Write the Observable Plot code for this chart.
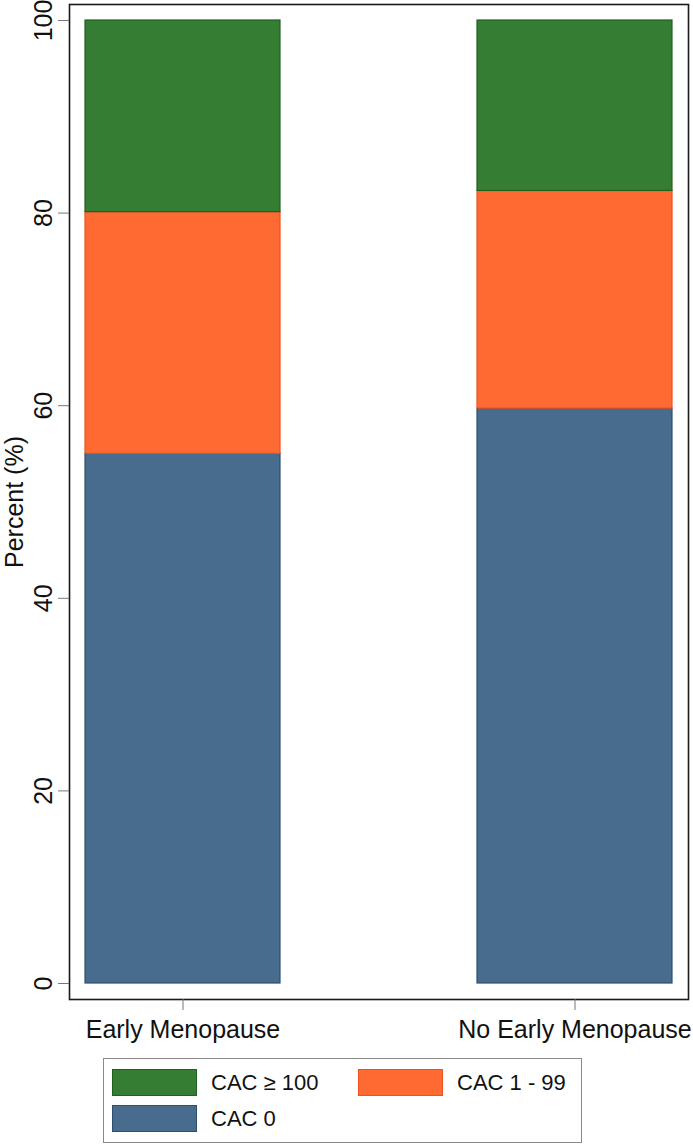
<!DOCTYPE html>
<html><head><meta charset="utf-8">
<script src="https://cdn.jsdelivr.net/npm/d3@7"></script>
<script src="https://cdn.jsdelivr.net/npm/@observablehq/plot@0.6"></script>
<style>
body{margin:0;background:#fff;font-family:"Liberation Sans",Arial,sans-serif;}
#wrap{position:relative;width:693px;height:1144px;overflow:hidden;}
#legend{position:absolute;left:103px;top:1058px;width:479px;height:85px;border:1.5px solid #8a8a8a;box-sizing:border-box;}
.sw{position:absolute;width:85px;height:27px;box-sizing:border-box;border:1.5px solid;}
.lb{position:absolute;font-size:22px;line-height:27px;color:#111;white-space:nowrap;}
</style></head>
<body><div id="wrap"><div id="chart"></div><div id="legend"></div></div>
<script>
// Data
const groups = ["Early Menopause", "No Early Menopause"];
const categories = ["CAC 0", "CAC 1 - 99", "CAC ≥ 100"];
const cac0 = [55.0, 59.7];
const cac1to99 = [25.1, 22.6];
const cac100 = [19.9, 17.7];
const yTicks = [0, 20, 40, 60, 80, 100];
const legendOrder = ["CAC ≥ 100", "CAC 1 - 99", "CAC 0"];

// Styles
const fills = {"CAC 0": "#486c8d", "CAC 1 - 99": "#ff6a33", "CAC ≥ 100": "#347d32"};
const strokes = {"CAC 0": "#2f4e6d", "CAC 1 - 99": "#f0501c", "CAC ≥ 100": "#22601f"};

// stacked table
const series = [cac0, cac1to99, cac100];
const rows = [];
groups.forEach((g, i) => {
  let base = 0;
  categories.forEach((c, k) => {
    const v = series[k][i];
    rows.push({group: g, cat: c, y1: base, y2: base + v});
    base += v;
  });
});

const chart = Plot.plot({
  width: 693,
  height: 1050,
  marginLeft: 69,
  marginRight: 5,
  marginTop: 4,
  marginBottom: 51,
  style: {fontFamily: "'Liberation Sans', Arial, sans-serif", fontSize: "25px", color: "#111", background: "#fff"},
  x: {domain: groups, paddingInner: 0.503, paddingOuter: 0.041, label: null},
  y: {domain: [0, 100], insetTop: 16, insetBottom: 16, label: "Percent (%)"},
  marks: [
    ...categories.map(c => Plot.barY(rows.filter(d => d.cat === c), {
      x: "group", y1: "y1", y2: "y2", fill: fills[c], stroke: strokes[c], strokeWidth: 1.2, inset: 0
    })),
    Plot.frame({stroke: "#1a1a1a", strokeWidth: 1.6}),
    Plot.axisY({ticks: yTicks, tickSize: 11, tickRotate: -90, tickPadding: 7, stroke: "#777", fill: "#111",
      label: "Percent (%)", labelAnchor: "center", labelArrow: "none", labelOffset: 64}),
    Plot.axisX({tickSize: 11, tickPadding: 10, stroke: "#777", fill: "#111", label: null})
  ]
});
document.getElementById("chart").appendChild(chart);

// Legend
const legend = document.getElementById("legend");
const pos = [
  {sx: 8, sy: 10, lx: 107},
  {sx: 254, sy: 10, lx: 353},
  {sx: 8, sy: 46, lx: 107}
];
legendOrder.forEach((c, i) => {
  const p = pos[i];
  const sw = document.createElement("div");
  sw.className = "sw";
  sw.style.left = p.sx + "px"; sw.style.top = p.sy + "px";
  sw.style.background = fills[c]; sw.style.borderColor = strokes[c];
  legend.appendChild(sw);
  const lb = document.createElement("div");
  lb.className = "lb";
  lb.style.left = p.lx + "px"; lb.style.top = p.sy + "px";
  lb.textContent = c;
  legend.appendChild(lb);
});
</script>
</body></html>
